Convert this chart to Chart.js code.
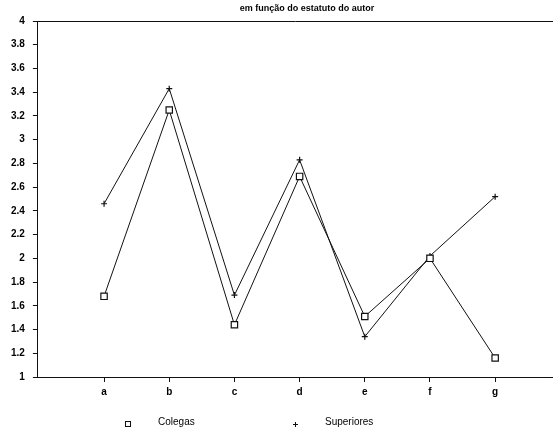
<!DOCTYPE html>
<html>
<head>
<meta charset="utf-8">
<script src="https://cdn.jsdelivr.net/npm/chart.js@4/dist/chart.umd.min.js"></script>
<style>
html,body{margin:0;padding:0;background:#fff;}
#wrap{width:553px;height:436px;position:relative;}
</style>
</head>
<body>
<div id="wrap"><canvas id="c" width="553" height="436"></canvas></div>
<script>
const categories = ['a','b','c','d','e','f','g'];
const colegas = [1.68, 3.25, 1.44, 2.69, 1.51, 2.00, 1.16];
const superiores = [2.46, 3.43, 1.69, 2.83, 1.34, 2.02, 2.52];
const yTicks = [1,1.2,1.4,1.6,1.8,2,2.2,2.4,2.6,2.8,3,3.2,3.4,3.6,3.8,4];
const titleText = 'em função do estatuto do autor';
const seriesNames = ['Colegas','Superiores'];

const FONT = 'Liberation Sans, Arial, sans-serif';

function pts(vals){ return vals.map((v,i)=>({x:i+1,y:v})); }

const frame = {
  id:'frame',
  afterDraw(chart){
    const {ctx, chartArea:a, width} = chart;
    ctx.save();
    ctx.strokeStyle = '#111';
    ctx.lineWidth = 1;
    ctx.beginPath();
    ctx.moveTo(a.left, a.top+0.5); ctx.lineTo(width, a.top+0.5);
    ctx.moveTo(a.right, Math.round(a.bottom)+0.5); ctx.lineTo(width, Math.round(a.bottom)+0.5);
    ctx.stroke();
    // title
    ctx.fillStyle = '#000';
    ctx.font = 'bold 9px ' + FONT;
    ctx.textAlign = 'center';
    ctx.textBaseline = 'middle';
    ctx.fillText(titleText, 307, 9);
    // legend
    ctx.font = '10px ' + FONT;
    ctx.textAlign = 'left';
    ctx.strokeRect(125.5, 421.5, 5, 5);
    ctx.fillText(seriesNames[0], 158, 422);
    ctx.beginPath();
    ctx.moveTo(293, 424.5); ctx.lineTo(298, 424.5);
    ctx.moveTo(295.5, 422); ctx.lineTo(295.5, 427);
    ctx.stroke();
    ctx.fillText(seriesNames[1], 325, 422);
    ctx.restore();
  }
};

new Chart(document.getElementById('c'), {
  type:'line',
  data:{
    datasets:[
      {label:seriesNames[0], data:pts(colegas), borderColor:'#111', borderWidth:1,
       pointStyle:'rect', pointRadius:4.5, pointBorderColor:'#111', pointBackgroundColor:'#fff', pointBorderWidth:1.2, tension:0},
      {label:seriesNames[1], data:pts(superiores), borderColor:'#111', borderWidth:1,
       pointStyle:'cross', pointRadius:3, pointBorderColor:'#111', pointBorderWidth:1.2, tension:0}
    ]
  },
  options:{
    responsive:false, animation:false, devicePixelRatio:1,
    layout:{padding:{left:3, right:0, top:21, bottom:34}},
    plugins:{
      legend:{display:false},
      tooltip:{enabled:false},
      title:{display:false}
    },
    scales:{
      x:{
        type:'linear', min:-0.015, max:7.80,
        afterBuildTicks(s){ s.ticks = categories.map((c,i)=>({value:i+1})); },
        ticks:{callback:(v)=>categories[v-1] ?? '', color:'#000', font:{family:FONT, size:10, weight:'bold'}, padding:4, maxRotation:0, autoSkip:false},
        grid:{drawOnChartArea:false, drawTicks:true, tickLength:5, color:'#111'},
        border:{display:true, color:'#111', width:1}
      },
      y:{
        min:1, max:4,
        afterBuildTicks(s){ s.ticks = yTicks.map(v=>({value:v})); },
        ticks:{callback:(v)=>String(v), color:'#000', font:{family:FONT, size:10, weight:'bold'}, padding:8, autoSkip:false},
        grid:{drawOnChartArea:false, drawTicks:true, tickLength:5, color:'#111'},
        border:{display:true, color:'#111', width:1, dash:[6,2]}
      }
    }
  },
  plugins:[frame]
});
</script>
</body>
</html>
